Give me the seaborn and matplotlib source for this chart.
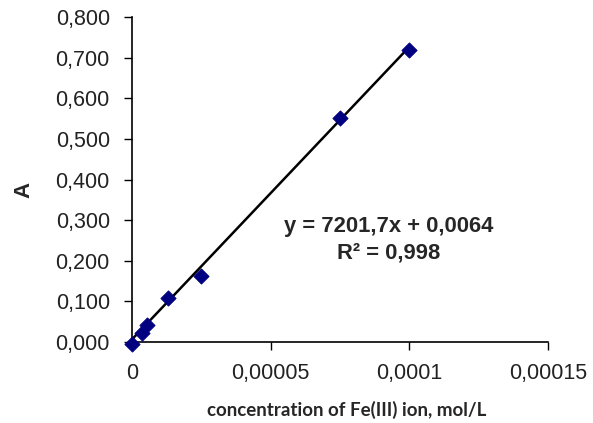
import matplotlib
matplotlib.use("Agg")
import matplotlib.pyplot as plt
import seaborn as sns
import numpy as np
import pandas as pd
from matplotlib.ticker import FuncFormatter

conc = [0.0, 0.0000035, 0.0000053, 0.000013, 0.000025, 0.000075, 0.0001]
absorb = [-0.005, 0.021, 0.042, 0.109, 0.162, 0.552, 0.720]
slope = 7201.7
intercept = 0.0064
r2_text = "0,998"
xticks = [0, 0.00005, 0.0001, 0.00015]
xtick_labels = ["0", "0,00005", "0,0001", "0,00015"]
yticks = [0.0, 0.1, 0.2, 0.3, 0.4, 0.5, 0.6, 0.7, 0.8]

sns.set_theme(style="white")
plt.rcParams['font.family'] = ['Liberation Sans', 'DejaVu Sans']

fig = plt.figure(figsize=(5.93, 4.23), dpi=100)
ax = fig.add_axes([132/593, 1-342/423, (548-132)/593, (342-17)/423])

df = pd.DataFrame({"x": conc, "y": absorb})
fit_x = np.array([min(conc), max(conc)])
fit_df = pd.DataFrame({"x": fit_x, "y": slope * fit_x + intercept})
sns.lineplot(data=fit_df, x="x", y="y", ax=ax, color="black", linewidth=1.8, zorder=2)
sns.scatterplot(data=df, x="x", y="y", ax=ax, marker="D", color="#000080", s=60,
                edgecolor="#000080", zorder=3, clip_on=False)

ax.set_xlim(0, 0.00015)
ax.set_ylim(0, 0.8)
ax.set_xticks(xticks)
ax.set_xticklabels(xtick_labels)
ax.set_yticks(yticks)
ax.yaxis.set_major_formatter(FuncFormatter(lambda v, p: f"{v:.3f}".replace(".", ",")))
for s in ["top", "right"]:
    ax.spines[s].set_visible(False)
for s in ["left", "bottom"]:
    ax.spines[s].set_color("black")
    ax.spines[s].set_linewidth(1.2)
ax.tick_params(axis="both", which="major", direction="out", length=6, width=1,
               color="black", labelsize=15.5, labelcolor="#222222",
               left=True, bottom=True)
ax.tick_params(axis="y", pad=10)
ax.tick_params(axis="x", pad=9)
ax.set_xlabel("concentration of Fe(III) ion, mol/L", fontsize=13.5, fontweight="bold",
              family=["Lato", "DejaVu Sans"], va="center")
ax.xaxis.set_label_coords((347-132)/416, (342-410)/325)
ax.set_ylabel("A", fontsize=16, fontweight="bold", va="center")
ax.yaxis.set_label_coords((24-132)/416, (342-190)/325)

ax.text(0.0000927, 0.284, "y = 7201,7x + 0,0064", ha="center", va="center",
        fontsize=15.8, fontweight="bold")
ax.text(0.0000927, 0.218, f"R² = {r2_text}", ha="center", va="center",
        fontsize=15.8, fontweight="bold")

fig.savefig("out.png", dpi=100)
